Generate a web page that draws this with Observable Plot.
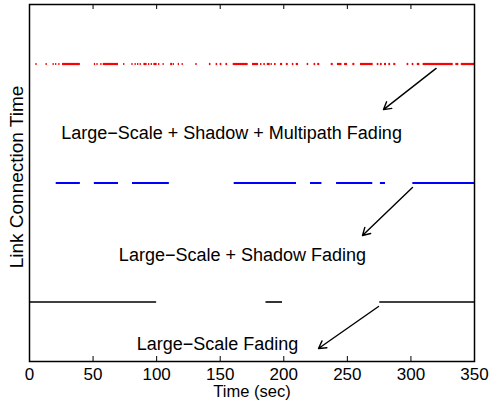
<!DOCTYPE html>
<html>
<head>
<meta charset="utf-8">
<script src="https://cdn.jsdelivr.net/npm/d3@7"></script>
<script src="https://cdn.jsdelivr.net/npm/@observablehq/plot@0.6"></script>
<style>
  html, body { margin: 0; padding: 0; background: white; }
  #chart { width: 490px; height: 406px; }
</style>
</head>
<body>
<div id="chart"></div>
<script>
// ---- data ----
const xTicks = [0, 50, 100, 150, 200, 250, 300, 350];
const seriesLevels = { large: 1, shadow: 2, multipath: 3 };

// connection intervals [start, end] in seconds
const largeScaleSegments = [[0, 100], [186, 199], [275.5, 350]];
const shadowSegments = [[21, 40], [51, 70], [81, 110], [161, 210], [221, 230], [241.5, 270], [276, 280], [301.5, 350]];
const multipathSegments = [
  [5, 6], [13, 14], [18.5, 19.5], [20.5, 21.5], [23, 24], [26, 40], [51, 52], [53, 54], [56, 57], [58, 70],
  [74, 75], [80.5, 81.5], [83, 84], [85, 86], [87, 88], [90, 92.5], [93.6, 94.6], [95.7, 96.7], [97.8, 100.4],
  [101.5, 102.5], [105, 106], [111, 112.5], [113, 114], [117, 118], [120, 121], [130.8, 131.9], [141.5, 142.7],
  [146.8, 148], [150, 151.3], [154.5, 155.8], [160.2, 172], [175.4, 180.2], [181.7, 182.8], [184.3, 185.5],
  [187, 189.3], [190, 191], [192.7, 194], [197.4, 199.1], [202, 203.5], [206.7, 207.9], [209.8, 211.6],
  [218.4, 219.6], [223.8, 225.1], [226.7, 228.3], [237.3, 238.9], [242.2, 245.8], [247.8, 250.2], [254.3, 255.9],
  [260.3, 270.3], [273.5, 274.8], [276, 277.4], [279.2, 280.8], [282.6, 284], [286.5, 288.1], [297, 298.3],
  [301, 302.3], [305, 307], [309.6, 333.3], [335.3, 337.7], [339.6, 350]
];

const annotationTexts = ["Large\u2212Scale + Shadow + Multipath Fading", "Large\u2212Scale + Shadow Fading", "Large\u2212Scale Fading"];
const annotationX = [158.9, 167.5, 147.9];
const annotationY = [2.416, 1.391, 0.643];
// arrows: tail -> head
const arrowX1 = [319.8, 301.2, 274.5];
const arrowY1 = [2.963, 1.962, 0.962];
const arrowX2 = [278.4, 261.9, 227.3];
const arrowY2 = [2.617, 1.559, 0.609];

const xLabel = "Time (sec)";
const yLabel = "Link Connection Time";

// ---- build tables ----
const segs = [];
largeScaleSegments.forEach(([a, b]) => segs.push({ x1: a, x2: b, y: seriesLevels.large, s: "large" }));
shadowSegments.forEach(([a, b]) => segs.push({ x1: a, x2: b, y: seriesLevels.shadow, s: "shadow" }));
multipathSegments.forEach(([a, b]) => segs.push({ x1: a, x2: b, y: seriesLevels.multipath, s: "multipath" }));
const colors = { large: "#000000", shadow: "#0000ff", multipath: "#ff0000" };
const widths = { large: 1.6, shadow: 2, multipath: 2.2 };

const annotations = annotationTexts.map((t, i) => ({ text: t, x: annotationX[i], y: annotationY[i] }));
const arrows = arrowX1.map((d, i) => ({ x1: arrowX1[i], y1: arrowY1[i], x2: arrowX2[i], y2: arrowY2[i] }));

const yDomain = [0.5, 3.5];
const H = 406, mTop = 4, mBottom = 45;
const tickLenPx = 5;
const tickLen = tickLenPx * (yDomain[1] - yDomain[0]) / (H - mTop - mBottom);

const font = "'Liberation Sans', Arial, Helvetica, sans-serif";

const chart = Plot.plot({
  width: 490,
  height: H,
  marginLeft: 29,
  marginRight: 16,
  marginTop: mTop,
  marginBottom: mBottom,
  style: { fontFamily: font, background: "white", color: "black", overflow: "visible" },
  x: { domain: [0, 350] },
  y: { domain: yDomain, axis: null },
  marks: [
    Plot.ruleY(segs.filter(d => d.s === "large"), { y: "y", x1: "x1", x2: "x2", stroke: colors.large, strokeWidth: widths.large }),
    Plot.ruleY(segs.filter(d => d.s === "shadow"), { y: "y", x1: "x1", x2: "x2", stroke: colors.shadow, strokeWidth: widths.shadow }),
    Plot.ruleY(segs.filter(d => d.s === "multipath"), { y: "y", x1: "x1", x2: "x2", stroke: colors.multipath, strokeWidth: widths.multipath }),
    Plot.arrow(arrows, { x1: "x1", y1: "y1", x2: "x2", y2: "y2", stroke: "black", strokeWidth: 1.4, headLength: 9 }),
    Plot.text(annotations, { x: "x", y: "y", text: "text", fontSize: 18, fill: "black" }),
    // inward ticks, bottom and top
    Plot.ruleX(xTicks, { x: d => d, y1: yDomain[0], y2: yDomain[0] + tickLen, stroke: "black", strokeWidth: 1 }),
    Plot.ruleX(xTicks, { x: d => d, y1: yDomain[1], y2: yDomain[1] - tickLen, stroke: "black", strokeWidth: 1 }),
    Plot.axisX({ ticks: xTicks, tickSize: 0, tickPadding: 6, label: null, fontSize: 17, tickFormat: d => String(d) }),
    Plot.text([xLabel], { frameAnchor: "bottom", lineAnchor: "middle", textAnchor: "middle", dy: 30, text: d => d, fontSize: 16.5, fill: "black" }),
    Plot.text([yLabel], { frameAnchor: "left", lineAnchor: "middle", textAnchor: "middle", dx: -13, dy: -6, rotate: -90, text: d => d, fontSize: 19, fill: "black" }),
    Plot.frame({ stroke: "black", strokeWidth: 1.5 })
  ]
});
document.getElementById("chart").appendChild(chart);
</script>
</body>
</html>
